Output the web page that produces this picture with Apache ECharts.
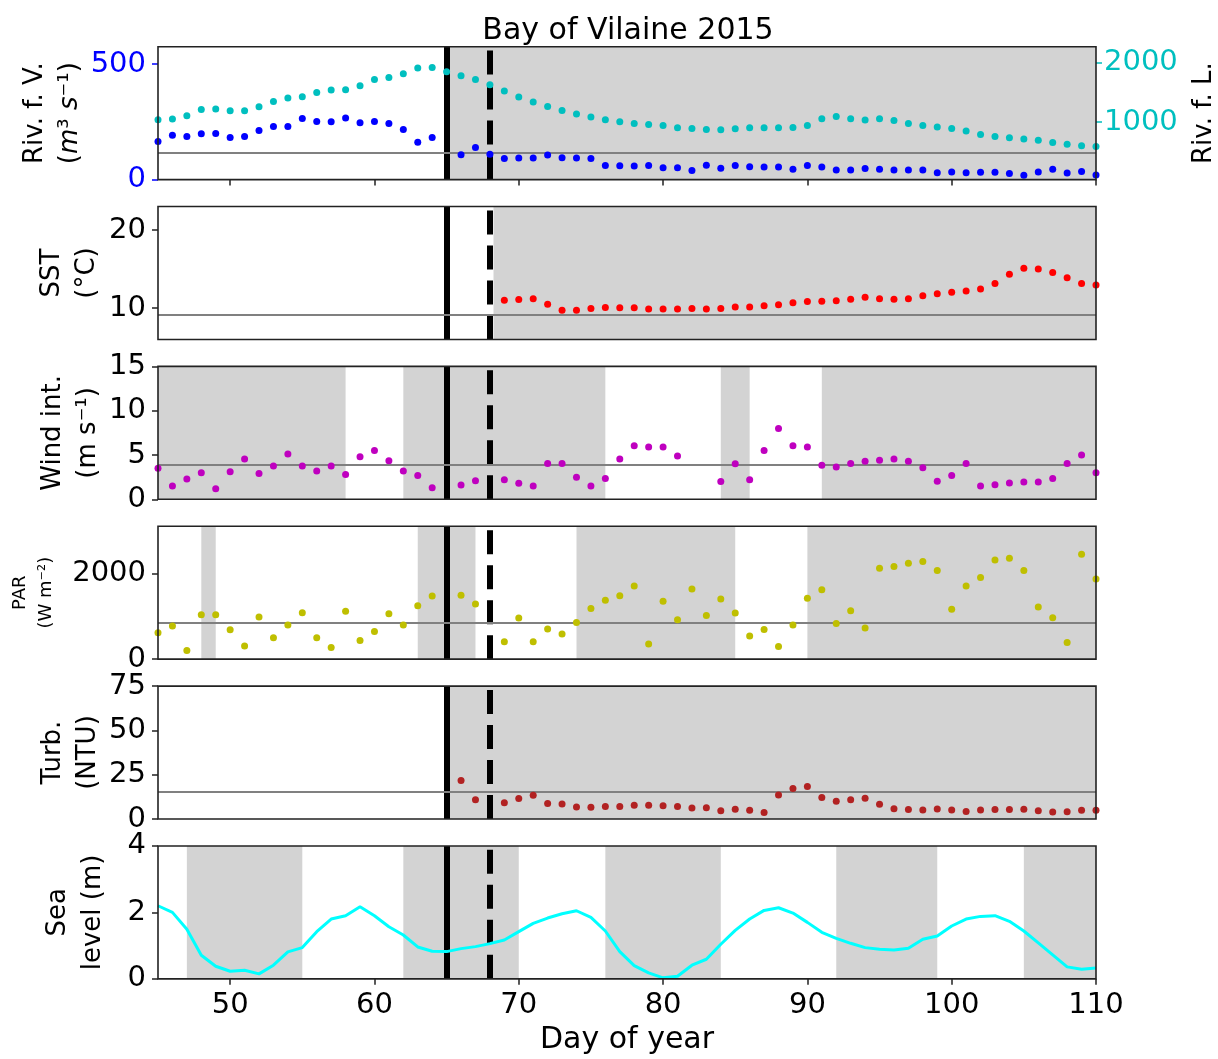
<!DOCTYPE html>
<html>
<head>
<meta charset="utf-8">
<title>Bay of Vilaine 2015</title>
<script src="https://cdn.jsdelivr.net/npm/echarts@6/dist/echarts.min.js"></script>
<style>
  html, body { margin: 0; padding: 0; background: #fff; }
  #chart { width: 1218px; height: 1059px; }
</style>
</head>
<body>
<div id="chart"></div>
<script>
// daily values, day of year 45..110 (null = no data)
const firstDay = 45;
const riverFlowV = [165, 192, 186, 198, 199, 182, 186, 212, 230, 230,
  264, 251, 250, 266, 246, 251, 243, 217, 162, 182,
  null, 107, 139, 110, 91, 93, 93, 106, 95, 93,
  91, 61, 60, 59, 61, 51, 51, 39, 62, 49,
  61, 56, 55, 55, 45, 61, 54, 42, 42, 48,
  45, 42, 42, 42, 30, 33, 30, 32, 32, 26,
  19, 33, 45, 29, 35, 20];
const riverFlowL = [1039, 1050, 1106, 1212, 1218, 1190, 1190, 1257, 1346, 1402,
  1425, 1497, 1536, 1542, 1609, 1715, 1749, 1810, 1905, 1916,
  1844, 1777, 1715, 1626, 1520, 1419, 1335, 1263, 1196, 1134,
  1084, 1039, 1006, 978, 961, 944, 905, 894, 877, 872,
  888, 905, 905, 905, 911, 944, 1056, 1095, 1056, 1034,
  1056, 1028, 978, 944, 916, 894, 849, 793, 760, 737,
  715, 698, 659, 631, 603, 592];
const sstStart = 69;
const sst = [11.0, 11.1, 11.2, 10.5, 9.75, 9.75, 9.95, 10.1, 10.05, 10.05,
  9.9, 9.9, 9.9, 9.95, 9.9, 9.95, 10.15, 10.15, 10.3, 10.45,
  10.7, 10.85, 10.9, 10.95, 11.15, 11.4, 11.2, 11.15, 11.2, 11.6,
  11.85, 12.05, 12.2, 12.45, 13.15, 14.35, 15.1, 15.0, 14.55, 13.9,
  13.15, 12.95];
const wind = [3.5, 1.5, 2.3, 3.0, 1.2, 3.1, 4.55, 2.9, 3.75, 5.1,
  3.75, 3.2, 3.75, 2.8, 4.8, 5.5, 4.35, 3.2, 2.7, 1.3,
  null, 1.6, 2.1, null, 2.2, 1.8, 1.5, 4.05, 4.05, 2.5,
  1.5, 2.35, 4.55, 6.05, 5.9, 5.9, 4.9, null, null, 2.0,
  4.0, 2.2, 5.5, 8.0, 6.05, 5.9, 3.85, 3.65, 4.05, 4.3,
  4.4, 4.55, 4.3, 3.55, 2.05, 2.7, 4.05, 1.5, 1.65, 1.85,
  1.95, 1.95, 2.35, 4.05, 5.0, 3.0];
const par = [620, 776, 204, 1043, 1043, 690, 306, 988, 502, 800,
  1090, 502, 275, 1122, 439, 651, 1067, 800, 1255, 1482,
  null, 1498, 1294, null, 408, 965, 408, 706, 588, 863,
  1192, 1380, 1490, 1718, 353, 1357, 926, 1647, 1027, 1412,
  1082, 541, 698, 298, 800, 1427, 1631, 839, 1137, 729,
  2133, 2173, 2251, 2290, 2079, 1169, 1718, 1914, 2330, 2369,
  2079, 1224, 973, 392, 2463, 1882];
const turbStart = 66;
const turb = [21.7, 10.9, null, 9.2, 11.5, 13.4, 8.7, 8.5, 6.8, 6.6,
  7.0, 7.0, 7.7, 7.7, 7.5, 7.0, 6.2, 6.4, 4.7, 5.5,
  4.9, 3.6, 13.6, 17.2, 18.3, 12.2, 10.0, 10.9, 11.7, 8.3,
  5.8, 5.3, 5.1, 5.7, 5.1, 4.3, 5.1, 5.3, 5.3, 5.5,
  4.7, 4.0, 4.1, 4.9, 4.9];
const seaLevel = [2.20, 2.00, 1.49, 0.71, 0.38, 0.23, 0.26, 0.15, 0.41, 0.81,
  0.94, 1.42, 1.80, 1.90, 2.17, 1.90, 1.57, 1.32, 0.96, 0.83,
  0.82, 0.91, 0.97, 1.06, 1.17, 1.42, 1.67, 1.83, 1.96, 2.05,
  1.85, 1.44, 0.82, 0.40, 0.18, 0.03, 0.08, 0.41, 0.59, 1.04,
  1.46, 1.80, 2.06, 2.14, 1.98, 1.70, 1.40, 1.22, 1.07, 0.94,
  0.89, 0.87, 0.92, 1.19, 1.29, 1.59, 1.80, 1.88, 1.90, 1.73,
  1.44, 1.08, 0.72, 0.36, 0.29, 0.33];

// reference lines (grey) and event days
const thresholds = [118, 9.2, 3.9, 855, 15.3, null];
const eventDays = [65, 68];

// grey shaded periods per panel [from, to]
const shading = [
  [[65, 110]],
  [[68.25, 110]],
  [[45, 58], [62, 76], [84, 86], [91, 110]],
  [[48, 49], [63, 67], [74, 85], [90, 110]],
  [[65, 110]],
  [[47, 55], [62, 70], [76, 84], [92, 99], [105, 110]]
];

// ticks
const xTicks = [50, 60, 70, 80, 90, 100, 110];
const flowVTicks = [0, 500];
const flowLTicks = [1000, 2000];
const sstTicks = [10, 20];
const windTicks = [0, 5, 10, 15];
const parTicks = [0, 2000];
const turbTicks = [0, 25, 50, 75];
const seaTicks = [0, 2, 4];

const FONT = 'DejaVu Sans';
const chart = echarts.init(document.getElementById('chart'));

const toPairs = (start, arr) => arr
  .map((v, i) => [start + i, v])
  .filter(p => p[1] !== null);
const plain = v => String(v);

const panelTop = i => 46.7 + i * 159.85;
const grids = [];
const xAxes = [];
for (let i = 0; i < 6; i++) {
  grids.push({
    left: 158, right: 122, top: panelTop(i), height: 132.9,
    outerBoundsMode: 'none', containLabel: false,
    show: true, borderColor: '#222', borderWidth: 1.6,
    backgroundColor: 'transparent', z: 10
  });
  const showTicks = i === 0 || i === 5;
  xAxes.push({
    type: 'value', gridIndex: i, min: 45, max: 110,
    splitLine: { show: false },
    axisLine: { show: false },
    axisTick: { show: showTicks, customValues: xTicks, length: 6, lineStyle: { color: '#222', width: 1.5 } },
    axisLabel: { show: i === 5, customValues: xTicks, formatter: plain,
      fontSize: 29, fontFamily: FONT, color: '#000', margin: 12 },
    name: i === 5 ? 'Day of year' : '',
    nameLocation: 'middle', nameGap: 46, nameMoveOverlap: false,
    nameTextStyle: { fontSize: 30, fontFamily: FONT, color: '#000' }
  });
}

function yAxis(i, o) {
  return {
    type: 'value', gridIndex: i, min: o.min, max: o.max,
    position: o.position || 'left',
    splitLine: { show: false },
    axisLine: { show: false },
    axisTick: { show: true, customValues: o.ticks, length: 6, lineStyle: { color: o.color || '#222', width: 1.5 } },
    axisLabel: { customValues: o.ticks, formatter: plain,
      fontSize: 29, fontFamily: FONT, color: o.color || '#000', margin: o.margin || 12 },
    name: o.name, nameLocation: 'middle', nameRotate: 90, nameGap: o.gap,
    nameMoveOverlap: false,
    nameTextStyle: {
      fontSize: o.fs || 26, lineHeight: o.lh || 35, fontFamily: FONT, color: '#000',
      rich: { it: { fontStyle: 'italic', fontSize: o.fs || 26, fontFamily: FONT } }
    }
  };
}

const yAxes = [
  yAxis(0, { min: 0, max: 575, ticks: flowVTicks, color: '#0000ff', gap: 70,
    name: 'Riv. f. V.\n({it|m}³ {it|s}⁻¹)' }),
  yAxis(0, { min: 37, max: 2263, ticks: flowLTicks, color: '#00bfbf', gap: 91, margin: 8,
    position: 'right', name: 'Riv. f. L.' }),
  yAxis(1, { min: 6, max: 23, ticks: sstTicks, gap: 53, name: 'SST\n(°C)' }),
  yAxis(2, { min: 0, max: 15, ticks: windTicks, gap: 52, name: 'Wind int.\n(m s⁻¹)' }),
  yAxis(3, { min: 0, max: 3120, ticks: parTicks, gap: 99, fs: 18, lh: 26, name: 'PAR\n(W m⁻²)' }),
  yAxis(4, { min: 0, max: 75, ticks: turbTicks, gap: 52, name: 'Turb.\n(NTU)' }),
  yAxis(5, { min: 0, max: 4, ticks: seaTicks, gap: 47, name: 'Sea\nlevel (m)' })
];
// y-axis index used for the decorations of each panel
const panelY = [0, 2, 3, 4, 5, 6];

const series = [];
for (let i = 0; i < 6; i++) {
  series.push({
    type: 'line', xAxisIndex: i, yAxisIndex: panelY[i], data: [], z: 1, silent: true,
    markArea: {
      silent: true,
      itemStyle: { color: '#d3d3d3', opacity: 1 },
      data: shading[i].map(s => [{ xAxis: s[0] }, { xAxis: s[1] }])
    }
  });
  series.push({
    type: 'line', xAxisIndex: i, yAxisIndex: panelY[i], data: [], z: 2, silent: true,
    markLine: {
      silent: true, symbol: ['none', 'none'], label: { show: false },
      lineStyle: { color: '#000', width: 6, opacity: 1 },
      data: [
        { xAxis: eventDays[0], lineStyle: { type: 'solid' } },
        { xAxis: eventDays[1], lineStyle: { type: [24, 11] } }
      ]
    }
  });
  if (thresholds[i] !== null) {
    series.push({
      type: 'line', xAxisIndex: i, yAxisIndex: panelY[i], data: [], z: 3, silent: true,
      markLine: {
        silent: true, symbol: ['none', 'none'], label: { show: false },
        lineStyle: { color: '#808080', width: 2, type: 'solid', opacity: 1 },
        data: [{ yAxis: thresholds[i] }]
      }
    });
  }
}

const dot = (name, xi, yi, data, color) => ({
  name, type: 'scatter', xAxisIndex: xi, yAxisIndex: yi, data,
  symbolSize: 7, itemStyle: { color, opacity: 1 }, z: 5, silent: true
});
series.push(dot('Riv. f. V.', 0, 0, toPairs(firstDay, riverFlowV), '#0000ff'));
series.push(Object.assign(dot('Riv. f. L.', 0, 1, toPairs(firstDay, riverFlowL), '#00bfbf'), { z: 6 }));
series.push(dot('SST', 1, 2, toPairs(sstStart, sst), '#ff0000'));
series.push(dot('Wind int.', 2, 3, toPairs(firstDay, wind), '#bf00bf'));
series.push(dot('PAR', 3, 4, toPairs(firstDay, par), '#bfbf00'));
series.push(dot('Turb.', 4, 5, toPairs(turbStart, turb), '#b22222'));
series.push({
  name: 'Sea level', type: 'line', xAxisIndex: 5, yAxisIndex: 6,
  data: toPairs(firstDay, seaLevel), showSymbol: false, z: 5, silent: true,
  lineStyle: { color: '#00ffff', width: 3 }
});

chart.setOption({
  animation: false,
  backgroundColor: '#fff',
  title: {
    text: 'Bay of Vilaine 2015', left: 623, top: 11, textAlign: 'center',
    textStyle: { fontSize: 30, fontWeight: 'normal', fontFamily: FONT, color: '#000' }
  },
  grid: grids,
  xAxis: xAxes,
  yAxis: yAxes,
  series: series
});
</script>
</body>
</html>
